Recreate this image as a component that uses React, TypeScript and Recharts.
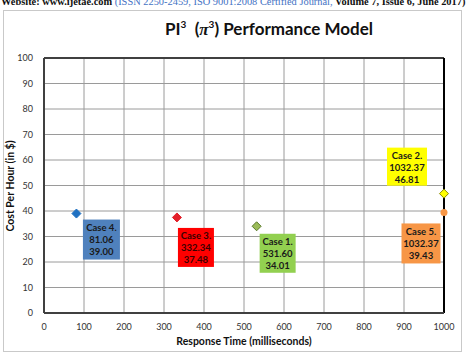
import {
  ScatterChart,
  Scatter,
  XAxis,
  YAxis,
  CartesianGrid,
  ReferenceLine,
} from "recharts";

const caseNames = ["Case 1.", "Case 2.", "Case 3.", "Case 4.", "Case 5."];
const responseTimes = [531.6, 1032.37, 332.34, 81.06, 1032.37];
const costs = [34.01, 46.81, 37.48, 39.0, 39.43];
const responseLabels = ["531.60", "1032.37", "332.34", "81.06", "1032.37"];
const costLabels = ["34.01", "46.81", "37.48", "39.00", "39.43"];
const xTicks = [0, 100, 200, 300, 400, 500, 600, 700, 800, 900, 1000];
const yTicks = [0, 10, 20, 30, 40, 50, 60, 70, 80, 90, 100];

const X_MAX = 1000;
const FONT = "Lato, 'Open Sans', sans-serif";

// marker + label look per case (offset = label box centre from the point)
const looks = [
  { marker: "diamond", fill: "#9BBB59", stroke: "#5a7a2a", box: "#92D050", text: "#1a1a1a", w: 36, h: 39, dx: 21, dy: 27 },
  { marker: "diamond", fill: "#FFFF00", stroke: "#8a8a00", box: "#FFFF00", text: "#1a1a1a", w: 40, h: 38, dx: -37, dy: -27 },
  { marker: "diamond", fill: "#E3202A", stroke: "#E3202A", box: "#FF0000", text: "#3a0000", w: 36, h: 39, dx: 19, dy: 30 },
  { marker: "diamond", fill: "#1F70C1", stroke: "#1F70C1", box: "#4F81BD", text: "#1a1a1a", w: 37, h: 40, dx: 25, dy: 26 },
  { marker: "circle", fill: "#F79646", stroke: "#F79646", box: "#F79646", text: "#1a1a1a", w: 39, h: 40, dx: -23, dy: 31 },
];

const series = caseNames.map((name, i) => ({
  name,
  data: [
    {
      x: Math.min(responseTimes[i], X_MAX),
      y: costs[i],
      lines: [name, responseLabels[i], costLabels[i]],
    },
  ],
}));

function makeShape(i: number) {
  const look = looks[i];
  return (props: any) => {
    const { cx, cy, payload } = props;
    const bx = cx + look.dx - look.w / 2;
    const by = cy + look.dy - look.h / 2;
    return (
      <g>
        {look.marker === "diamond" ? (
          <polygon
            points={`${cx},${cy - 4.5} ${cx + 4.5},${cy} ${cx},${cy + 4.5} ${cx - 4.5},${cy}`}
            fill={look.fill}
            stroke={look.stroke}
            strokeWidth={1}
          />
        ) : (
          <circle cx={cx} cy={cy} r={3.5} fill={look.fill} />
        )}
        <rect x={bx} y={by} width={look.w} height={look.h} fill={look.box} />
        {payload.lines.map((t: string, k: number) => (
          <text
            key={k}
            x={bx + look.w / 2}
            y={by + 11.5 + k * 12}
            textAnchor="middle"
            fontSize={9.5}
            fontWeight="bold"
            fontFamily={FONT}
            fill={look.text}
          >
            {t}
          </text>
        ))}
      </g>
    );
  };
}

export default function App() {
  return (
    <div
      style={{
        position: "absolute",
        left: 0,
        top: 0,
        width: 466,
        height: 354,
        background: "#fff",
        overflow: "hidden",
      }}
    >
      <div
        style={{
          position: "absolute",
          left: 1,
          top: -4,
          whiteSpace: "nowrap",
          fontFamily: "'Liberation Serif', serif",
          fontSize: 10.4,
          fontWeight: "bold",
          color: "#111",
        }}
      >
        Website: www.ijetae.com{" "}
        <span style={{ color: "#4472C4", fontWeight: "normal" }}>
          (ISSN 2250-2459, ISO 9001:2008 Certified Journal,
        </span>{" "}
        Volume 7, Issue 6, June 2017)
      </div>

      <div
        style={{
          position: "absolute",
          left: 3,
          top: 10,
          width: 457,
          height: 340,
          border: "1px solid #c9c9c9",
        }}
      />

      <div
        style={{
          position: "absolute",
          left: 165,
          top: 18,
          whiteSpace: "nowrap",
          fontFamily: FONT,
          fontSize: 17,
          fontWeight: "bold",
          color: "#111",
        }}
      >
        PI<sup style={{ fontSize: 10 }}>3</sup>&nbsp; (
        <span style={{ fontFamily: "'Liberation Serif', serif", fontStyle: "italic" }}>π</span>
        <sup style={{ fontSize: 10 }}>3</sup>) Performance Model
      </div>

      <div style={{ position: "absolute", left: 0, top: 0 }}>
        <ScatterChart
          width={466}
          height={354}
          margin={{ top: 58, right: 22, bottom: 11, left: 0 }}
        >
          <CartesianGrid stroke="#9a9a9a" strokeWidth={1} />
          <XAxis
            type="number"
            dataKey="x"
            domain={[0, X_MAX]}
            ticks={xTicks}
            height={30}
            tickLine={false}
            axisLine={{ stroke: "#404040", strokeWidth: 2 }}
            tick={{ fontSize: 9, fontFamily: FONT, fill: "#333" }}
            tickMargin={5}
            interval={0}
          />
          <YAxis
            type="number"
            dataKey="y"
            domain={[0, 100]}
            ticks={yTicks}
            width={44}
            tickLine={false}
            axisLine={{ stroke: "#404040", strokeWidth: 2 }}
            tick={{ fontSize: 9, fontFamily: FONT, fill: "#333" }}
            tickMargin={5}
            interval={0}
          />
          <ReferenceLine y={100} stroke="#404040" strokeWidth={2} />
          <ReferenceLine x={X_MAX} stroke="#000" strokeWidth={2} />
          {series.map((s, i) => (
            <Scatter
              key={s.name}
              name={s.name}
              data={s.data}
              shape={makeShape(i)}
              isAnimationActive={false}
            />
          ))}
        </ScatterChart>
      </div>

      <div
        style={{
          position: "absolute",
          left: 44,
          width: 400,
          top: 335,
          textAlign: "center",
          fontFamily: FONT,
          fontSize: 10.5,
          fontWeight: "bold",
          color: "#111",
        }}
      >
        Response Time (milliseconds)
      </div>

      <div
        style={{
          position: "absolute",
          left: 10,
          top: 186,
          transform: "translate(-50%, -50%) rotate(-90deg)",
          whiteSpace: "nowrap",
          fontFamily: FONT,
          fontSize: 10.5,
          fontWeight: "bold",
          color: "#111",
        }}
      >
        Cost Per Hour (in $)
      </div>
    </div>
  );
}
